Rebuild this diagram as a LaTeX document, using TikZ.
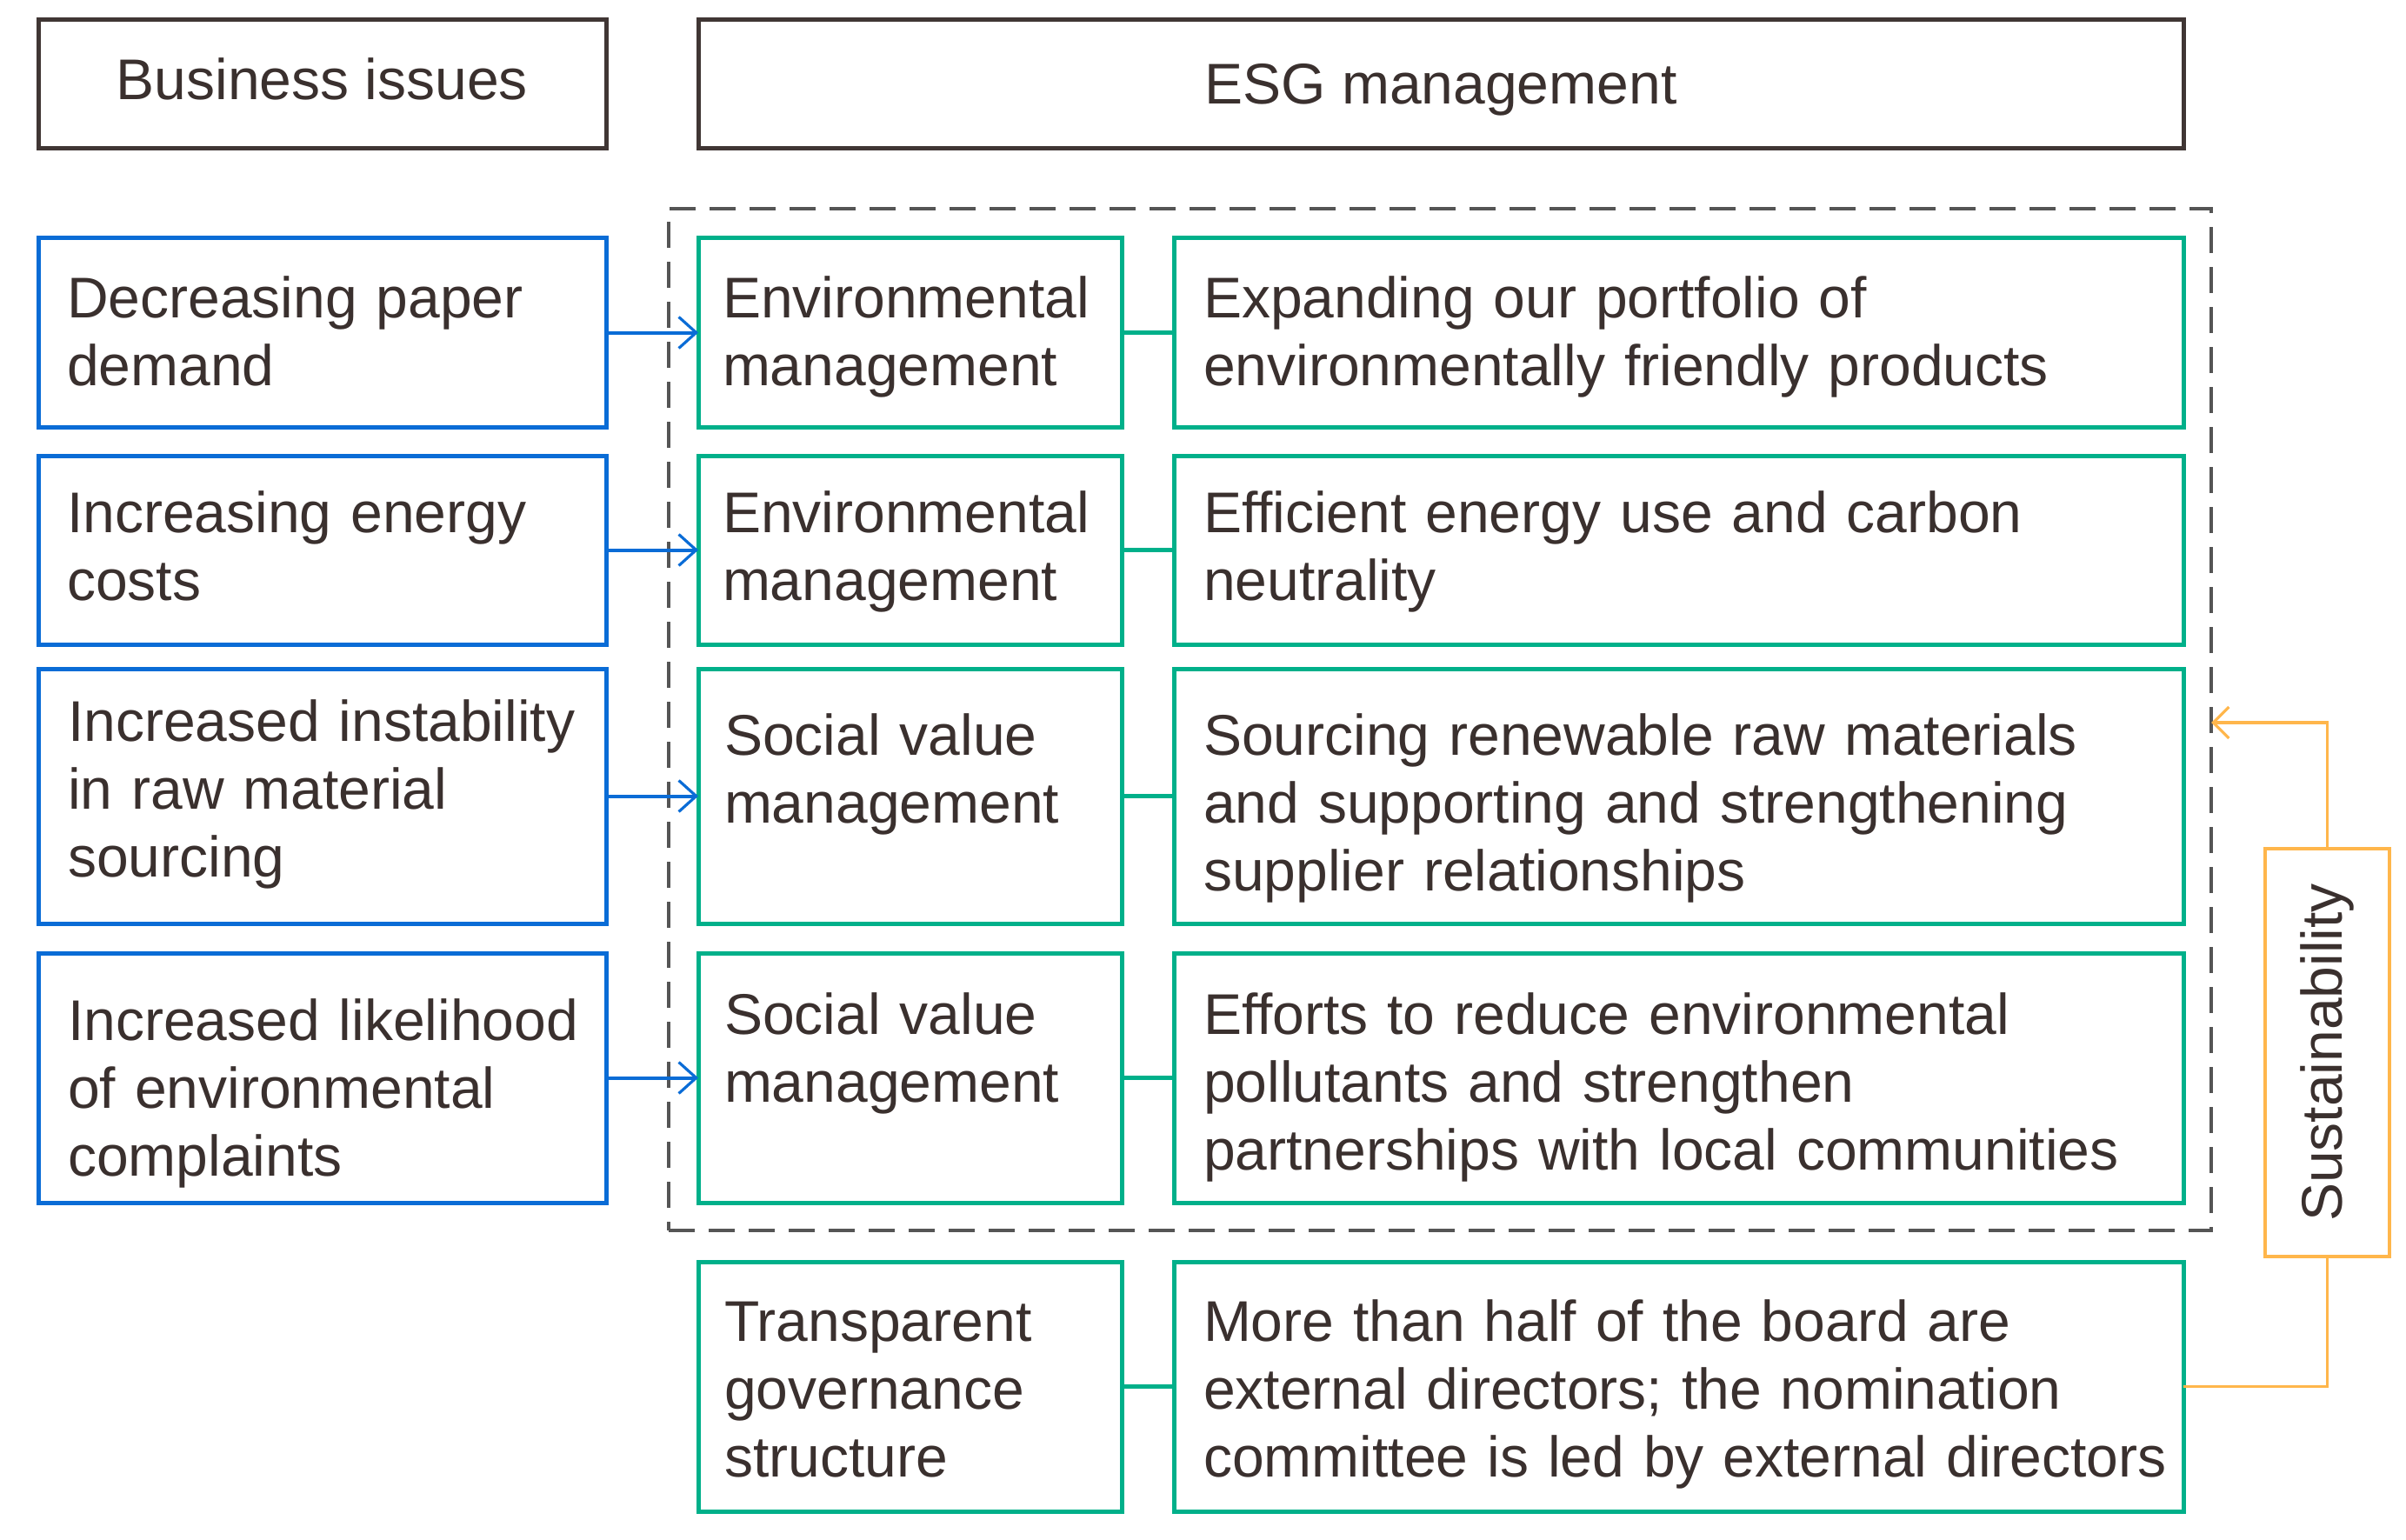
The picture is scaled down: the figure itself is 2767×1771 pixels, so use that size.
\documentclass[tikz,border=0pt]{standalone}
\usepackage{fontspec}
\setmainfont{Liberation Sans}
\usetikzlibrary{arrows.meta}
\definecolor{bluec}{RGB}{10,108,214}
\definecolor{greenc}{RGB}{0,176,138}
\definecolor{orangec}{RGB}{255,182,75}
\definecolor{txtc}{RGB}{58,48,46}
\definecolor{hdrc}{RGB}{64,54,52}
\definecolor{dashc}{RGB}{85,85,85}
\tikzset{
  boxbase/.style={rectangle, inner sep=0pt, outer sep=0pt, line width=2.5pt},
  hdrbox/.style={boxbase, draw=hdrc, minimum height=74pt},
  bluebox/.style={boxbase, draw=bluec, minimum width=326.5pt},
  glbox/.style={boxbase, draw=greenc, minimum width=243.5pt},
  grbox/.style={boxbase, draw=greenc, minimum width=580.5pt},
  htxt/.style={anchor=base, inner sep=0pt, outer sep=0pt, text=txtc, font=\fontsize{33}{39}\selectfont},
  txt/.style={anchor=base west, inner sep=0pt, outer sep=0pt, align=left, text=txtc, font=\fontsize{33}{39}\selectfont},
  btxt/.style={txt, text width=310pt},
  gltxt/.style={txt, text width=235pt},
  grtxt/.style={txt, text width=570pt},
  barrow/.style={draw=bluec, line width=2pt, -{Straight Barb[length=10pt,width=18pt,line width=1.6pt]}},
  gline/.style={draw=greenc, line width=2.2pt},
  oline/.style={draw=orangec, line width=1.8pt},
  oarrow/.style={oline, -{Straight Barb[length=9pt,width=18pt,line width=1.6pt]}},
  dashbox/.style={boxbase, draw=dashc, line width=2pt, dash pattern=on 15pt off 8pt},
}
\begin{document}
\begin{tikzpicture}[x=0.5pt,y=-0.5pt]
\useasboundingbox (0,0) rectangle (2767,1771);
% headers
\node[hdrbox, minimum width=326.5pt] (hb) at (370.5,97) {};
\node[hdrbox, minimum width=854pt] (he) at (1657,97) {};
\node[htxt] (hbt) at (370.5,115) {Business issues};
\node[htxt] (het) at (1657,120) {ESG management};
% dashed frame
\node[dashbox, minimum width=887pt, minimum height=587.5pt] (dbox) at (1656,827.5) {};
% blue boxes
\node[bluebox, minimum height=108.5pt] (b1) at (370.5,382.5) {};
\node[bluebox, minimum height=108.5pt] (b2) at (370.5,632.5) {};
\node[bluebox, minimum height=146.5pt] (b3) at (370.5,915.5) {};
\node[bluebox, minimum height=143.5pt] (b4) at (370.5,1239.5) {};
% green left
\node[glbox, minimum height=108.5pt] (g1l) at (1046.5,382.5) {};
\node[glbox, minimum height=108.5pt] (g2l) at (1046.5,632.5) {};
\node[glbox, minimum height=146.5pt] (g3l) at (1046.5,915.5) {};
\node[glbox, minimum height=143.5pt] (g4l) at (1046.5,1239.5) {};
\node[glbox, minimum height=143.5pt] (g5l) at (1046.5,1594.5) {};
% green right
\node[grbox, minimum height=108.5pt] (g1r) at (1930.5,382.5) {};
\node[grbox, minimum height=108.5pt] (g2r) at (1930.5,632.5) {};
\node[grbox, minimum height=146.5pt] (g3r) at (1930.5,915.5) {};
\node[grbox, minimum height=143.5pt] (g4r) at (1930.5,1239.5) {};
\node[grbox, minimum height=143.5pt] (g5r) at (1930.5,1594.5) {};
% sustainability
\node[boxbase, draw=orangec, line width=2pt, minimum width=71.5pt, minimum height=234.5pt] (sus) at (2676.5,1210.5) {};
\node[inner sep=0pt, rotate=90, text=txtc, font=\fontsize{33}{39}\selectfont] (sust) at (sus.center) {Sustainability};
% texts
\node[btxt] (t1) at (77,365) {Decreasing paper\\demand};
\node[btxt] (t2) at (77,612) {Increasing energy\\costs};
\node[btxt] (t3) at (78,852) {Increased instability\\in raw material\\sourcing};
\node[btxt] (t4) at (78,1196) {Increased likelihood\\of environmental\\complaints};
\node[gltxt] (t5) at (831,365) {Environmental\\management};
\node[gltxt] (t6) at (831,612) {Environmental\\management};
\node[gltxt] (t7) at (833,868) {Social value\\management};
\node[gltxt] (t8) at (833,1189) {Social value\\management};
\node[gltxt] (t9) at (833,1542) {Transparent\\governance\\structure};
\node[grtxt] (t10) at (1384,365) {Expanding our portfolio of\\environmentally friendly products};
\node[grtxt] (t11) at (1384,612) {Efficient energy use and carbon\\neutrality};
\node[grtxt] (t12) at (1384,868) {Sourcing renewable raw materials\\and supporting and strengthening\\supplier relationships};
\node[grtxt] (t13) at (1384,1189) {Efforts to reduce environmental\\pollutants and strengthen\\partnerships with local communities};
\node[grtxt] (t14) at (1384,1542) {More than half of the board are\\external directors; the nomination\\committee is led by external directors};
% connectors
\draw[barrow] (b1.east) -- (g1l.west);
\draw[barrow] (b2.east) -- (g2l.west);
\draw[barrow] (b3.east) -- (g3l.west);
\draw[barrow] (b4.east) -- (g4l.west);
\draw[gline] (g1l.east) -- (g1r.west);
\draw[gline] (g2l.east) -- (g2r.west);
\draw[gline] (g3l.east) -- (g3r.west);
\draw[gline] (g4l.east) -- (g4r.west);
\draw[gline] (g5l.east) -- (g5r.west);
\coordinate (tp) at (2676.5,831);
\draw[oarrow] (sus.north) -- (tp) -- (dbox.east |- tp);
\draw[oline] (sus.south) |- (g5r.east);
\end{tikzpicture}
\end{document}
